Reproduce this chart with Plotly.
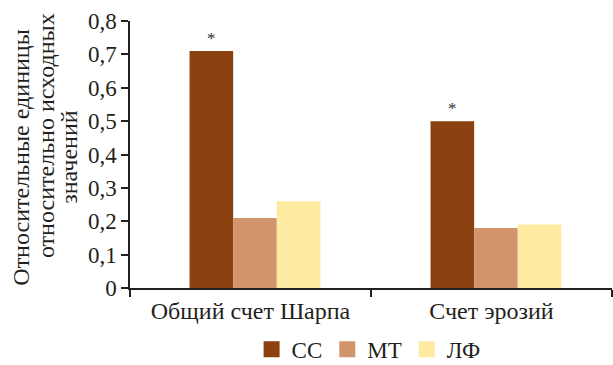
import plotly.graph_objects as go

categories = ["Общий счет Шарпа", "Счет эрозий"]
series_names = ["СС", "МТ", "ЛФ"]
cc_values = [0.71, 0.50]
mt_values = [0.21, 0.18]
lf_values = [0.26, 0.19]
cc_marks = ["*", "*"]
y_ticks = [0, 0.1, 0.2, 0.3, 0.4, 0.5, 0.6, 0.7, 0.8]
y_title_lines = ["Относительные единицы", "относительно исходных", "значений"]

colors = ["#8B4210", "#D2946B", "#FEEBA1"]
FONT = "Liberation Serif"
INK = "#231f20"
BAR_W = 0.181
BAR_OFFSETS = [-0.253, -0.072, 0.109]

fig = go.Figure()
series = [cc_values, mt_values, lf_values]
for i, (name, vals) in enumerate(zip(series_names, series)):
    kw = {}
    if i == 0:
        kw = dict(text=cc_marks, textposition="outside", cliponaxis=False,
                  textfont=dict(family=FONT, size=17, color="#333333"))
    fig.add_trace(go.Bar(x=categories, y=vals, name=name, showlegend=False,
                         width=BAR_W, offset=BAR_OFFSETS[i],
                         marker=dict(color=colors[i], line=dict(width=0)), **kw))
# legend entries with larger square swatches
for i, name in enumerate(series_names):
    fig.add_trace(go.Scatter(x=[None], y=[None], mode="markers", name=name,
                             marker=dict(symbol="square", size=16, color=colors[i],
                                         line=dict(width=0))))

title_y = [0.488, 0.569, 0.488]
title_dx = [-109, -84, -61]
for j, line in enumerate(y_title_lines):
    fig.add_annotation(text=line, textangle=-90, xref="paper", yref="paper",
                       x=0, y=title_y[j], xanchor="center", yanchor="middle",
                       xshift=title_dx[j], showarrow=False,
                       font=dict(family=FONT, size=24, color=INK))

fig.update_layout(
    width=613, height=365,
    margin=dict(l=130, r=1, t=21, b=77, autoexpand=False),
    paper_bgcolor="white", plot_bgcolor="white",
    font=dict(family=FONT, size=23, color=INK),
    separators=", ",
    barmode="overlay",
    showlegend=True,
    legend=dict(orientation="h", x=0.495, xanchor="center", y=-0.23, yanchor="middle",
                font=dict(family=FONT, size=23, color=INK), tracegroupgap=0,
                bgcolor="rgba(0,0,0,0)"),
    xaxis=dict(showline=True, linecolor=INK, linewidth=1.5,
               ticks="outside", tickson="boundaries", ticklen=7, tickcolor=INK,
               tickwidth=1.5, showgrid=False, tickfont=dict(size=24)),
    yaxis=dict(range=[0, 0.8], tickvals=y_ticks, showline=True, linecolor=INK,
               linewidth=1.5, ticks="outside", ticklen=7, tickcolor=INK, tickwidth=1.5,
               showgrid=False, zeroline=False, tickfont=dict(size=23)),
)

fig.write_html("out.html", config={"displayModeBar": False},
               post_script="document.body.style.margin='0px';document.body.style.overflow='hidden';")
